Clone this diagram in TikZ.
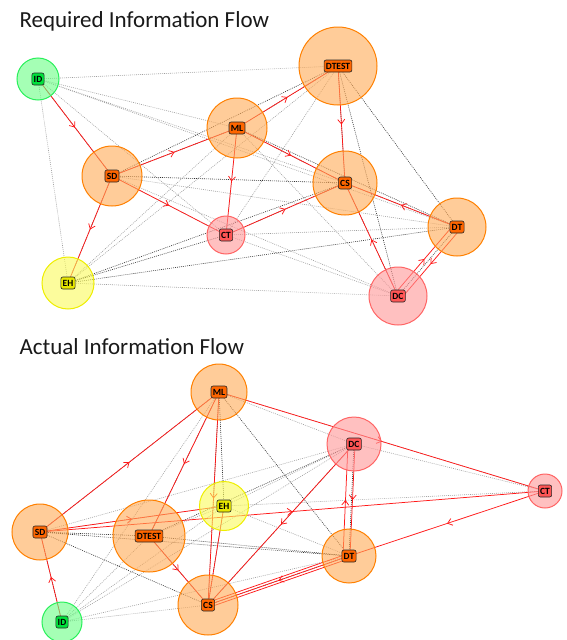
\documentclass[tikz,border=0pt]{standalone}
\usepackage{fontspec}
\setmainfont{Carlito}
\usetikzlibrary{arrows.meta,decorations.markings}

\definecolor{orgfill}{RGB}{255,170,85}
\definecolor{orgline}{RGB}{255,128,0}
\definecolor{orgtag}{RGB}{255,102,0}
\definecolor{grnfill}{RGB}{105,255,132}
\definecolor{grnline}{RGB}{40,240,90}
\definecolor{grntag}{RGB}{0,225,60}
\definecolor{ylwfill}{RGB}{250,250,90}
\definecolor{ylwline}{RGB}{238,238,0}
\definecolor{ylwtag}{RGB}{232,232,0}
\definecolor{pnkfill}{RGB}{255,150,150}
\definecolor{pnkline}{RGB}{255,100,100}
\definecolor{pnktag}{RGB}{255,85,85}
\definecolor{flowred}{RGB}{255,25,25}

\tikzset{
  flow/.style={draw=flowred, line width=0.75pt, postaction={decorate},
    decoration={markings, mark=at position 0.5 with {\arrow{Straight Barb[length=4.5pt,width=7pt]}}}},
  plain/.style={draw=flowred, line width=0.75pt},
  dark/.style={draw=black!80, dash pattern=on 0.9pt off 1.1pt, line width=0.6pt},
  faint/.style={draw=black!38, dash pattern=on 0.9pt off 1.1pt, line width=0.6pt},
  blob/.style={circle, draw=#1line, fill=#1fill, fill opacity=0.6, draw opacity=1, line width=1pt, inner sep=0pt},
  tag/.style={draw=black!85, fill=#1tag, rounded corners=2pt, font=\bfseries\fontsize{9.5}{9.5}\selectfont,
    inner xsep=1.8pt, inner ysep=1.4pt, minimum height=12pt, line width=0.6pt},
  heading/.style={anchor=base west, font=\fontsize{23}{23}\selectfont, text=black!90}
}

\begin{document}
\begin{tikzpicture}[x=1pt, y=-1pt]
\useasboundingbox (0,0) rectangle (566,640);

\node[heading] (headreq) at (16,27) {Required Information Flow};
\node[heading] (headact) at (16,354) {Actual Information Flow};

\coordinate (rID) at (38,79);
\coordinate (rDTEST) at (338,66);
\coordinate (rML) at (237,128);
\coordinate (rSD) at (112,176);
\coordinate (rCS) at (345,183);
\coordinate (rCT) at (226,235);
\coordinate (rDT) at (457,227);
\coordinate (rEH) at (68,283);
\coordinate (rDC) at (398,296);

\draw[faint] (rID) -- (rDTEST) (rID) -- (rCS) (rID) -- (rDT) (rID) -- (rEH) (rID) -- (rCT) (rID) -- (rML);
\draw[faint] (rDTEST) -- (rEH) (rDTEST) -- (rCT) (rML) -- (rDC) (rML) -- (rEH) (rSD) -- (rDT) (rSD) -- (rDC);
\draw[faint] (rCT) -- (rDT) (rCT) -- (rDC) (rEH) -- (rDC) (rSD) -- (rCT) (rML) -- (rCT);
\draw[dark] (rID) -- (rSD) (rDTEST) -- (rML) (rDTEST) -- (rSD) (rDTEST) -- (rCS) (rDTEST) -- (rDT) (rDTEST) -- (rDC);
\draw[dark] (rML) -- (rSD) (rML) -- (rCS) (rML) -- (rDT) (rSD) -- (rCS) (rSD) -- (rEH);
\draw[dark] (rCS) -- (rCT) (rCS) -- (rDT) (rCS) -- (rDC) (rCS) -- (rEH) (rDT) -- (rDC) (rDT) -- (rEH) (rEH) -- (rCT);

\draw[flow] (rID) -- (rSD);
\draw[flow] (rSD) -- (rML);
\draw[flow] (rML) -- (rDTEST);
\draw[flow] (rML) -- (rCS);
\draw[flow] (rDTEST) -- (rCS);
\draw[flow] (rML) -- (rCT);
\draw[flow] (rSD) -- (rCT);
\draw[flow] (rSD) -- (rEH);
\draw[flow] (rCT) -- (rCS);
\draw[flow] (rDT) -- (rCS);
\draw[flow] (rDC) -- (rCS);
\draw[flow, transform canvas={shift={(-3,-2.6)}}] (rDC) -- (rDT);
\draw[flow, transform canvas={shift={(3,2.6)}}] (rDT) -- (rDC);

\node[blob=grn, minimum size=42] (rIDc) at (rID) {};
\node[blob=org, minimum size=78] (rDTESTc) at (rDTEST) {};
\node[blob=org, minimum size=60] (rMLc) at (rML) {};
\node[blob=org, minimum size=60] (rSDc) at (rSD) {};
\node[blob=org, minimum size=64] (rCSc) at (rCS) {};
\node[blob=pnk, minimum size=38] (rCTc) at (rCT) {};
\node[blob=org, minimum size=58] (rDTc) at (rDT) {};
\node[blob=ylw, minimum size=52] (rEHc) at (rEH) {};
\node[blob=pnk, minimum size=58] (rDCc) at (rDC) {};

\node[tag=grn] (rIDt) at (rID) {ID};
\node[tag=org] (rDTESTt) at (rDTEST) {DTEST};
\node[tag=org] (rMLt) at (rML) {ML};
\node[tag=org] (rSDt) at (rSD) {SD};
\node[tag=org] (rCSt) at (rCS) {CS};
\node[tag=pnk] (rCTt) at (rCT) {CT};
\node[tag=org] (rDTt) at (rDT) {DT};
\node[tag=ylw] (rEHt) at (rEH) {EH};
\node[tag=pnk] (rDCt) at (rDC) {DC};

\coordinate (aML) at (219,392);
\coordinate (aDC) at (354,444);
\coordinate (aCT) at (545,491);
\coordinate (aEH) at (224,506);
\coordinate (aSD) at (40,532);
\coordinate (aDTEST) at (149,536);
\coordinate (aDT) at (349,556);
\coordinate (aCS) at (208,605);
\coordinate (aID) at (62,622);

\draw[faint] (aML) -- (aDC) (aML) -- (aCT) (aDC) -- (aCT) (aDC) -- (aEH) (aDC) -- (aID) (aEH) -- (aSD);
\draw[faint] (aEH) -- (aDTEST) (aEH) -- (aID) (aID) -- (aCS) (aID) -- (aDTEST) (aID) -- (aDT) (aCT) -- (aEH);
\draw[faint] (aSD) -- (aDC) (aEH) -- (aDT) (aML) -- (aID);
\draw[dark] (aML) -- (aSD) (aML) -- (aDTEST) (aML) -- (aCS) (aML) -- (aDT) (aML) -- (aEH);
\draw[dark] (aDC) -- (aDTEST) (aDC) -- (aCS) (aDC) -- (aDT) (aSD) -- (aDTEST) (aSD) -- (aCS) (aSD) -- (aDT);
\draw[dark] (aDTEST) -- (aCS) (aDTEST) -- (aDT) (aEH) -- (aCS) (aDT) -- (aCS) (aID) -- (aSD);

\draw[flow] (aSD) -- (aML);
\draw[flow] (aML) -- (aDTEST);
\draw[flow] (aML) -- (aCS);
\draw[plain] (aEH) -- (aCS);
\draw[flow] (aML) -- (aCT);
\draw[flow] (aSD) -- (aEH);
\draw[flow] (aSD) -- (aCT);
\draw[flow] (aCT) -- (aDT);
\draw[flow] (aDTEST) -- (aCS);
\draw[flow] (aDC) -- (aCS);
\draw[flow] (aID) -- (aSD);
\draw[flow, transform canvas={shift={(-6,0)}}] (aDT) -- (aDC);
\draw[flow, transform canvas={shift={(1,0)}}] (aDC) -- (aDT);
\draw[plain, transform canvas={shift={(-0.8,-2.4)}}] (aDT) -- (aCS);
\draw[flow] (aDT) -- (aCS);
\draw[plain, transform canvas={shift={(0.8,2.4)}}] (aDT) -- (aCS);

\node[blob=org, minimum size=56] (aMLc) at (aML) {};
\node[blob=pnk, minimum size=54] (aDCc) at (aDC) {};
\node[blob=pnk, minimum size=34] (aCTc) at (aCT) {};
\node[blob=ylw, minimum size=49] (aEHc) at (aEH) {};
\node[blob=org, minimum size=56] (aSDc) at (aSD) {};
\node[blob=org, minimum size=72] (aDTESTc) at (aDTEST) {};
\node[blob=org, minimum size=54] (aDTc) at (aDT) {};
\node[blob=org, minimum size=60] (aCSc) at (aCS) {};
\node[blob=grn, minimum size=40] (aIDc) at (aID) {};

\node[tag=org] (aMLt) at (aML) {ML};
\node[tag=pnk] (aDCt) at (aDC) {DC};
\node[tag=pnk] (aCTt) at (aCT) {CT};
\node[tag=ylw] (aEHt) at (aEH) {EH};
\node[tag=org] (aSDt) at (aSD) {SD};
\node[tag=org] (aDTESTt) at (aDTEST) {DTEST};
\node[tag=org] (aDTt) at (aDT) {DT};
\node[tag=org] (aCSt) at (aCS) {CS};
\node[tag=grn] (aIDt) at (aID) {ID};
\end{tikzpicture}
\end{document}
